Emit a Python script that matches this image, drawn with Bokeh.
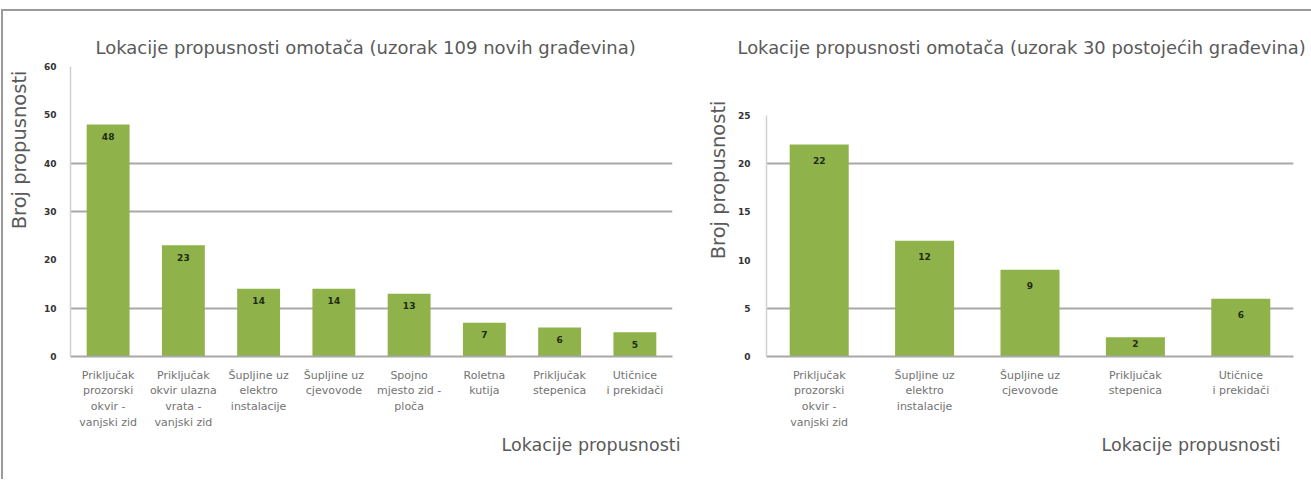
from bokeh.plotting import figure
from bokeh.models import FactorRange, Range1d, Title, FixedTicker, ColumnDataSource
from bokeh.layouts import row
from bokeh.embed import file_html
from bokeh.resources import INLINE
from bokeh.core.properties import value

# ---------------- data ----------------
title_new = "Lokacije propusnosti omotača (uzorak 109 novih građevina)"
title_old = "Lokacije propusnosti omotača (uzorak 30 postojećih građevina)"
y_title = "Broj propusnosti"
x_title = "Lokacije propusnosti"

cats_new = [
    "Priključak\nprozorski\nokvir -\nvanjski zid",
    "Priključak\nokvir ulazna\nvrata -\nvanjski zid",
    "Šupljine uz\nelektro\ninstalacije",
    "Šupljine uz\ncjevovode",
    "Spojno\nmjesto zid -\nploča",
    "Roletna\nkutija",
    "Priključak\nstepenica",
    "Utičnice\ni prekidači",
]
vals_new = [48, 23, 14, 14, 13, 7, 6, 5]
yticks_new = [0, 10, 20, 30, 40, 50, 60]
grid_new = [10, 30, 40]

cats_old = [
    "Priključak\nprozorski\nokvir -\nvanjski zid",
    "Šupljine uz\nelektro\ninstalacije",
    "Šupljine uz\ncjevovode",
    "Priključak\nstepenica",
    "Utičnice\ni prekidači",
]
vals_old = [22, 12, 9, 2, 6]
yticks_old = [0, 5, 10, 15, 20, 25]
grid_old = [5, 20]

# ---------------- style ----------------
FONT = "DejaVu Sans"
BAR = "#8fb24a"
TXT = "#5a5a5a"
H = 468
TOP, BOTTOM = 55, 345          # frame top / bottom inside each figure (px)


def chart(cats, vals, yticks, grid, title, width, left, right, top_tick_px,
          bar_w, lab_off, lab_frac, ytick_standoff, title_off, ytitle_off,
          ylab_gap, xtitle_off, title_size):
    ymax = yticks[-1]
    frame_h = BOTTOM - TOP
    y_end = ymax * frame_h / (BOTTOM - top_tick_px)
    px_per_unit = frame_h / y_end

    p = figure(width=width, height=H, output_backend="svg", toolbar_location=None,
               x_range=FactorRange(*cats), y_range=Range1d(0, y_end),
               min_border_left=left, min_border_right=width - right,
               min_border_top=TOP, min_border_bottom=H - BOTTOM)
    p.outline_line_color = None
    p.background_fill_color = "white"
    p.border_fill_color = "white"

    offs = [min(lab_off, v * px_per_unit * lab_frac) for v in vals]
    src = ColumnDataSource(dict(x=cats, top=vals, lab=[str(v) for v in vals], off=offs))
    p.vbar(x="x", top="top", width=bar_w, source=src, fill_color=BAR, line_color=None)
    p.text(x="x", y="top", text="lab", source=src, y_offset="off",
           text_align="center", text_baseline="middle", text_font=value(FONT),
           text_font_size="9px", text_font_style="bold", text_color="#1e2b10")

    p.xgrid.visible = False
    p.ygrid.ticker = FixedTicker(ticks=grid)
    p.ygrid.grid_line_color = "#a8a8a8"
    p.ygrid.grid_line_width = 2
    p.ygrid.level = "underlay"

    p.yaxis.ticker = FixedTicker(ticks=yticks)
    p.yaxis.bounds = (0, ymax)
    p.yaxis.axis_line_color = "#d0d0d0"
    p.yaxis.axis_line_width = 1.5
    p.yaxis.major_tick_line_color = None
    p.yaxis.minor_tick_line_color = None
    p.yaxis.major_label_standoff = ytick_standoff
    p.yaxis.major_label_text_font = FONT
    p.yaxis.major_label_text_font_size = "9px"
    p.yaxis.major_label_text_font_style = "bold"
    p.yaxis.major_label_text_color = "#333333"
    # blank spacer label: pushes the vertical title away from the tick labels
    p.yaxis.axis_label = " "
    p.yaxis.axis_label_text_font_size = "1px"
    p.yaxis.axis_label_standoff = ylab_gap

    p.xaxis.axis_line_color = "#a8a8a8"
    p.xaxis.axis_line_width = 2
    p.xaxis.major_tick_line_color = None
    p.xaxis.minor_tick_line_color = None
    p.xaxis.major_label_standoff = 6
    p.xaxis.major_label_text_font = FONT
    p.xaxis.major_label_text_font_size = "11px"
    p.xaxis.major_label_text_color = "#737373"
    p.xaxis.major_label_text_line_height = 1.22

    p.title.text = title
    p.title.align = "left"
    p.title.offset = title_off
    p.title.standoff = 17
    p.title.text_font = FONT
    p.title.text_font_size = title_size
    p.title.text_font_style = "normal"
    p.title.text_color = TXT

    p.add_layout(Title(text=y_title, align="right", offset=ytitle_off,
                       standoff=2, text_font=FONT,
                       text_font_size="19.5px", text_font_style="normal",
                       text_color=TXT), "left")
    p.add_layout(Title(text=x_title, align="right", offset=xtitle_off, standoff=0,
                       text_font=FONT, text_font_size="17.5px",
                       text_font_style="normal", text_color=TXT), "below")
    return p


p1 = chart(cats_new, vals_new, yticks_new, grid_new, title_new, 687, 67, 669, TOP,
           0.57, 12, 0.5, 8, 25, 4, 5, -8, "18px")
p2 = chart(cats_old, vals_old, yticks_old, grid_old, title_old, 621, 76, 603, 104,
           0.56, 16, 0.35, 10, -29, 34, 0, 13, "17.9px")

layout = row(p1, p2, spacing=0, margin=(9, 0, 0, 1),
             styles={"border-top": "2px solid #9a9a9a", "border-left": "2px solid #9a9a9a"})

open("out.html", "w").write(file_html(layout, INLINE))
